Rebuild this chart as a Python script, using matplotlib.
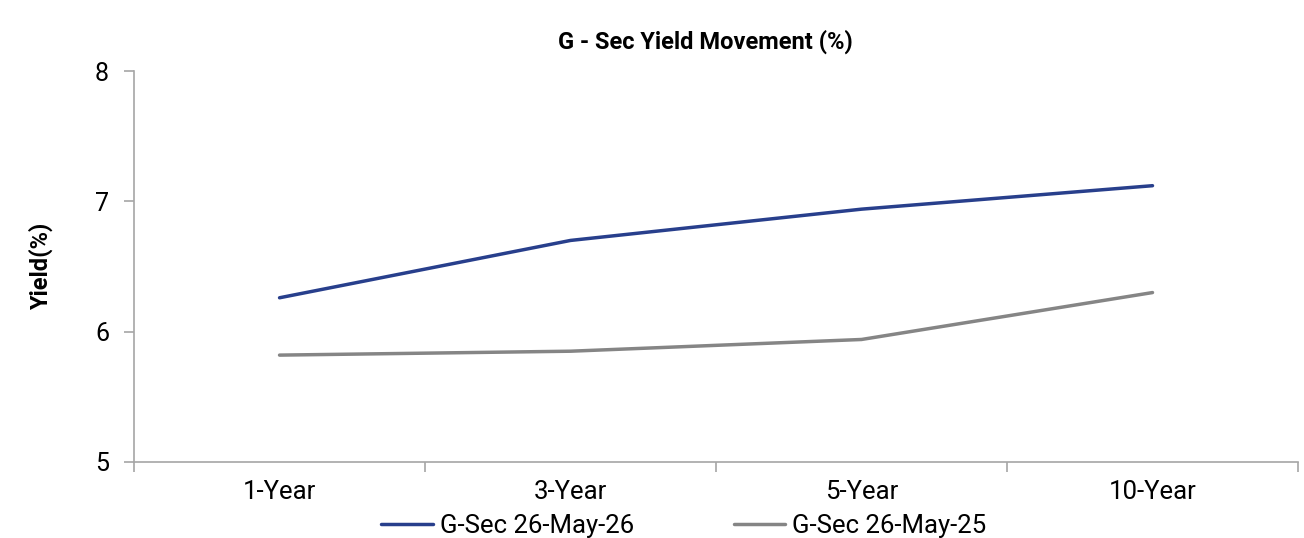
import matplotlib
matplotlib.use("Agg")
import matplotlib.pyplot as plt
from matplotlib.ticker import FixedLocator

# data
tenors = ["1-Year", "3-Year", "5-Year", "10-Year"]
yield_2026 = [6.26, 6.70, 6.94, 7.12]
yield_2025 = [5.82, 5.85, 5.94, 6.30]

BLUE = "#283F8C"
GREY = "#858585"
SPINE = "#A6A6A6"

plt.rcParams["font.family"] = ["Roboto", "DejaVu Sans"]

fig = plt.figure(figsize=(13.04, 5.38), dpi=100)
ax = fig.add_axes([0.1028, 0.1413, 0.8926, 0.7267])

x = list(range(len(tenors)))
ax.plot(x, yield_2026, color=BLUE, lw=2.5, label="G-Sec 26-May-26", solid_capstyle="round")
ax.plot(x, yield_2025, color=GREY, lw=2.5, label="G-Sec 26-May-25", solid_capstyle="round")

ax.set_xlim(-0.5, len(tenors) - 0.5)
ax.set_ylim(5, 8)
ax.set_yticks([5, 6, 7, 8])
ax.set_xticks(x)
ax.set_xticklabels(tenors)
ax.xaxis.set_minor_locator(FixedLocator([i - 0.5 for i in range(len(tenors) + 1)]))

ax.tick_params(axis="x", which="major", length=0, pad=13, labelsize=18.5)
ax.tick_params(axis="x", which="minor", length=7, color=SPINE, width=1.2)
ax.tick_params(axis="y", length=7, color=SPINE, width=1.2, pad=11, labelsize=18)

for side in ["top", "right"]:
    ax.spines[side].set_visible(False)
for side in ["left", "bottom"]:
    ax.spines[side].set_color(SPINE)
    ax.spines[side].set_linewidth(1.2)

ax.set_ylabel("Yield(%)", fontsize=17, fontweight="bold", labelpad=30)
ax.set_title("G - Sec Yield Movement (%)", fontsize=17, fontweight="bold", pad=16, x=0.491)

fig.legend(loc="center", bbox_to_anchor=(0.5245, 0.023), ncol=2, frameon=False,
           fontsize=18.5, handlelength=2.0, handletextpad=0.27, columnspacing=3.9)

fig.savefig("out.png", dpi=100)
